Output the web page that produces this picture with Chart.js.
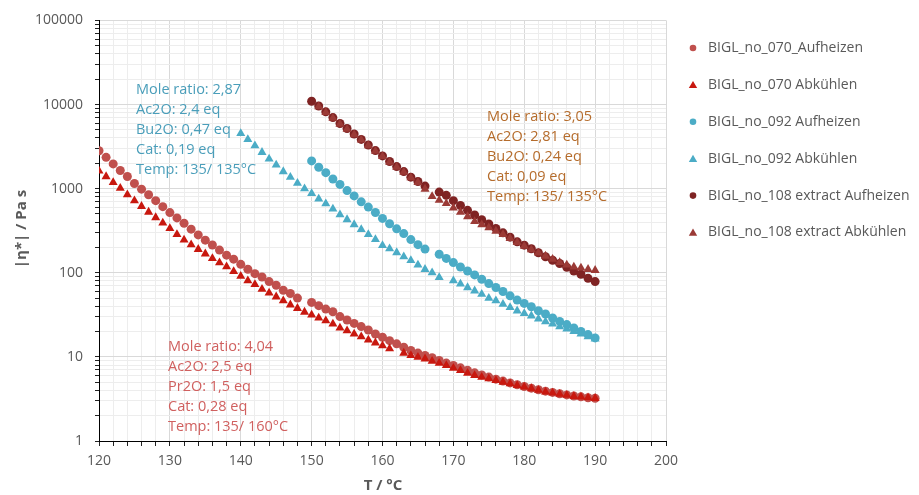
<!DOCTYPE html>
<html>
<head>
<meta charset="utf-8">
<script src="https://cdn.jsdelivr.net/npm/chart.js@4.4.1/dist/chart.umd.min.js"></script>
<style>
  body { margin: 0; background: #fff; }
  canvas { display: block; }
</style>
</head>
<body>
<canvas id="viscChart" width="919" height="495"></canvas>
<script>
// temperatures (°C) and |eta*| (Pa s)
var t070Heat = [120,121,122,123,124,125,126,127,128,129,130,131,132,133,134,135,136,137,138,139,140,141,142,143,144,145,146,147,148,
                150,151,152,153,154,155,156,157,158,159,160,161,162,163,164,165,166,167,168,169,170,171,172,173,174,175,176,177,178,179,180,181,182,183,184,185,186,187,188,189,190];
var v070Heat = [2820,2355,1968,1641,1393,1151,986,847,719,611,519,449,388,330,282,244,214,186,162,145,126,110,97.5,89,78.5,71,62,56.6,50,
                44.4,40.6,37,34.4,30.1,27.4,25,22.9,20.9,18.7,17.1,15.6,14.3,13.0,11.9,11.1,10.4,9.75,9.06,8.43,7.91,7.41,6.92,6.46,6.10,5.75,5.43,5.15,4.90,4.66,4.45,4.25,4.07,3.91,3.78,3.65,3.53,3.43,3.35,3.27,3.22];

var t070Cool = [120,121,122,123,124,125,126,127,128,129,130,131,132,133,134,135,136,137,138,139,140,141,142,143,144,145,146,147,148,149,150,151,152,153,154,155,156,157,158,159,160,161,
                163,164,165,166,167,168,169,170,171,172,173,174,175,176,177,178,179,180,181,182,183,184,185,186,187,188,189,190];
var v070Cool = [1622,1393,1183,1014,847,719,617,527,453,391,336,285,246,216,190,168,148,132,118,104,91.2,80.7,72.8,63.8,57.5,51.8,46.5,41.6,37.8,34.1,31.5,29.0,26.9,24.6,22.1,20.5,18.7,17.4,15.9,14.7,13.6,12.5,
                11.1,10.4,9.91,9.49,8.89,8.43,7.91,7.35,6.90,6.41,6.03,5.75,5.51,5.26,5.02,4.81,4.59,4.39,4.20,4.01,3.83,3.72,3.60,3.50,3.40,3.34,3.28,3.22];

var t092Heat = [150,151,152,153,154,155,156,157,158,159,160,161,162,163,164,165,166,
                168,169,170,171,172,173,174,175,176,177,178,179,180,181,182,183,184,185,186,187,188,189,190];
var v092Heat = [2138,1795,1549,1303,1122,948,820,697,603,520,443,382,333,292,248,216,191,
                166,148,132,117,105,94.2,83.8,74.3,66.7,59.8,53.2,47.3,43.2,39.4,35.3,32.3,29.0,26.4,24.2,22.1,20.1,18.4,16.8];

var t092Cool = [140,141,142,143,144,145,146,147,148,149,150,151,152,153,154,155,156,157,158,159,160,161,162,163,164,165,166,167,168,
                170,171,172,173,174,175,176,177,178,179,180,181,182,183,184,185,186,187,188,189,190];
var v092Cool = [4529,3846,3243,2704,2254,1914,1596,1368,1161,1000,879,755,662,573,491,429,374,327,285,249,211,193,174,155,140,124,110,100,88.1,
                80.7,73.6,66.7,61.0,55.7,49.9,46.5,42.4,38.7,35.3,32.9,30.8,28.2,26.2,24.6,22.9,21.5,20.1,18.7,17.4,16.4];

var t108Heat = [150,151,152,153,154,155,156,157,158,159,160,161,162,163,164,165,166,
                168,169,170,171,172,173,174,175,176,177,178,179,180,181,182,183,184,185,186,187,188,189,190];
var v108Heat = [10940,9616,8185,6998,5957,5188,4457,3846,3304,2831,2449,2099,1828,1596,1368,1216,1072,
                910,832,719,631,552,486,427,380,336,298,265,233,213,193,173,155,141,129,116,105,95.9,85.9,78.5];

var t108Cool = [151,152,153,154,155,156,157,158,159,160,161,162,163,164,165,166,167,168,169,170,171,172,173,174,175,176,177,178,179,180,181,182,183,184,185,186,187,188,189,190];
var v108Cool = [9441,8035,6887,5861,5105,4385,3784,3251,2786,2410,2065,1799,1570,1349,1189,989,809,728,668,589,525,466,407,372,343,313,285,257,229,207,188,172,158,145,133,124,117,114,110,107];

var seriesNames = ['BIGL_no_070_Aufheizen', 'BIGL_no_070 Abkühlen', 'BIGL_no_092 Aufheizen',
                   'BIGL_no_092 Abkühlen', 'BIGL_no_108 extract Aufheizen', 'BIGL_no_108 extract Abkühlen'];
var seriesColors = ['#C0504D', '#C8180F', '#4BACC6', '#4BACC6', '#7F2323', '#9B3A36'];
var seriesShapes = ['circle', 'triangle', 'circle', 'triangle', 'circle', 'triangle'];

var yMajor = [1, 10, 100, 1000, 10000, 100000];
var yTicks = [1,2,3,4,5,6,7,8,9,10,20,30,40,50,60,70,80,90,100,200,300,400,500,600,700,800,900,
              1000,2000,3000,4000,5000,6000,7000,8000,9000,10000,20000,30000,40000,50000,60000,70000,80000,90000,100000];

var notes = [
    { color: '#4A9EBA', x: 136, y: 90, lines: ['Mole ratio: 2,87', 'Ac2O: 2,4 eq', 'Bu2O: 0,47 eq', 'Cat: 0,19 eq', 'Temp: 135/ 135°C'] },
    { color: '#B56C2C', x: 487, y: 117, lines: ['Mole ratio: 3,05', 'Ac2O: 2,81 eq', 'Bu2O: 0,24 eq', 'Cat: 0,09 eq', 'Temp: 135/ 135°C'] },
    { color: '#D0605F', x: 168, y: 347, lines: ['Mole ratio: 4,04', 'Ac2O: 2,5 eq', 'Pr2O: 1,5 eq', 'Cat: 0,28 eq', 'Temp: 135/ 160°C'] }
];

function toPoints(ts, vs) {
    var pts = [];
    for (var i = 0; i < ts.length; i++) pts.push({ x: ts[i], y: vs[i] });
    return pts;
}

var allT = [t070Heat, t070Cool, t092Heat, t092Cool, t108Heat, t108Cool];
var allV = [v070Heat, v070Cool, v092Heat, v092Cool, v108Heat, v108Cool];

var datasets = [];
for (var i = 0; i < 6; i++) {
    datasets.push({
        label: seriesNames[i],
        data: toPoints(allT[i], allV[i]),
        pointStyle: seriesShapes[i],
        pointRadius: seriesShapes[i] == 'circle' ? 4.5 : 5.2,
        backgroundColor: seriesColors[i],
        borderColor: seriesColors[i],
        borderWidth: 0,
        showLine: false,
        order: 6 - i
    });
}

var FONT = '"Open Sans", "Noto Sans", sans-serif';

// titles, notes and legend
var extras = {
    id: 'extras',
    afterDraw: function(chart) {
        var ctx = chart.ctx;
        ctx.save();

        ctx.fillStyle = '#595959';
        ctx.font = 'bold 15px ' + FONT;
        ctx.textAlign = 'center';
        ctx.textBaseline = 'middle';
        ctx.fillText('T / °C', 383, 486);
        ctx.save();
        ctx.translate(22, 229);
        ctx.rotate(-Math.PI / 2);
        ctx.fillText('|η*| / Pa s', 0, 0);
        ctx.restore();

        ctx.font = '14.5px ' + FONT;
        ctx.textAlign = 'left';
        notes.forEach(function(n) {
            ctx.fillStyle = n.color;
            n.lines.forEach(function(line, k) {
                ctx.fillText(line, n.x, n.y + k * 20);
            });
        });

        ctx.font = '14px ' + FONT;
        for (var i = 0; i < 6; i++) {
            var ly = 48 + i * 36.9;
            ctx.fillStyle = seriesColors[i];
            ctx.beginPath();
            if (seriesShapes[i] == 'circle') {
                ctx.arc(693, ly, 3.3, 0, Math.PI * 2);
            } else {
                ctx.moveTo(693, ly - 4);
                ctx.lineTo(697.2, ly + 3.2);
                ctx.lineTo(688.8, ly + 3.2);
                ctx.closePath();
            }
            ctx.fill();
            ctx.fillStyle = '#595959';
            ctx.fillText(seriesNames[i], 708, ly);
        }
        ctx.restore();
    }
};

new Chart(document.getElementById('viscChart'), {
    type: 'scatter',
    data: { datasets: datasets },
    options: {
        responsive: false,
        animation: false,
        layout: { padding: { left: 0, right: 253, top: 18, bottom: 0 } },
        plugins: {
            legend: { display: false },
            tooltip: { enabled: false }
        },
        scales: {
            x: {
                type: 'linear',
                min: 120,
                max: 200,
                afterFit: function(s) { s.height = 54; },
                border: { color: '#000', width: 1 },
                grid: {
                    color: function(c) { return c.tick && c.tick.value % 10 === 0 ? '#D9D9D9' : '#EDEDED'; },
                    tickColor: '#222',
                    tickLength: 5
                },
                ticks: {
                    stepSize: 2,
                    autoSkip: false,
                    maxRotation: 0,
                    padding: 7,
                    color: '#595959',
                    font: { family: FONT, size: 14 },
                    callback: function(v) { return v % 10 === 0 ? v : ''; }
                }
            },
            y: {
                type: 'logarithmic',
                min: 1,
                max: 100000,
                afterFit: function(s) { s.width = 99; },
                afterBuildTicks: function(s) {
                    s.ticks = yTicks.map(function(v) { return { value: v, major: yMajor.indexOf(v) >= 0 }; });
                },
                border: { color: '#000', width: 1 },
                grid: {
                    color: function(c) { return c.tick && yMajor.indexOf(c.tick.value) >= 0 ? '#D9D9D9' : '#EDEDED'; },
                    tickColor: '#222',
                    tickLength: 4
                },
                ticks: {
                    autoSkip: false,
                    padding: 12,
                    color: '#595959',
                    font: { family: FONT, size: 14 },
                    callback: function(v) { return yMajor.indexOf(v) >= 0 ? String(v) : ''; }
                }
            }
        }
    },
    plugins: [extras]
});
</script>
</body>
</html>
